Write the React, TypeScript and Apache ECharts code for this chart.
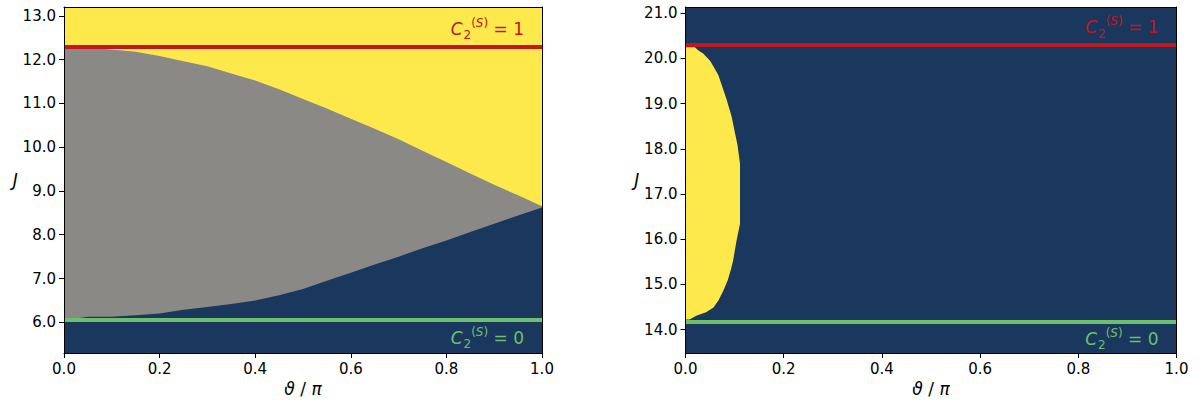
import React, { useEffect, useRef } from "react";
import * as echarts from "echarts";

// ---------- shared ----------
const X_TICKS = [0, 0.2, 0.4, 0.6, 0.8, 1.0];
const X_MIN = 0;
const X_MAX = 1;

// ---------- left panel ----------
const LEFT_J_MIN = 5.3;
const LEFT_J_MAX = 13.2;
const LEFT_Y_TICKS = [6, 7, 8, 9, 10, 11, 12, 13];
const LEFT_THETA = [0, 0.05, 0.1, 0.15, 0.2, 0.25, 0.3, 0.35, 0.4, 0.45, 0.5, 0.55, 0.6, 0.65, 0.7, 0.75, 0.8, 0.85, 0.9, 0.95, 1.0];
const LEFT_UPPER = [12.27, 12.27, 12.23, 12.18, 12.08, 11.96, 11.85, 11.68, 11.52, 11.32, 11.1, 10.88, 10.65, 10.42, 10.18, 9.92, 9.66, 9.4, 9.14, 8.9, 8.65];
const LEFT_LOWER = [6.05, 6.13, 6.13, 6.16, 6.2, 6.29, 6.35, 6.42, 6.5, 6.62, 6.76, 6.95, 7.13, 7.32, 7.5, 7.69, 7.87, 8.06, 8.25, 8.44, 8.62];
const LEFT_C1 = 12.3;
const LEFT_C0 = 6.05;

// ---------- right panel ----------
const RIGHT_J_MIN = 13.48;
const RIGHT_J_MAX = 21.14;
const RIGHT_Y_TICKS = [14, 15, 16, 17, 18, 19, 20, 21];
const RIGHT_J = [20.25, 20.17, 20.11, 19.95, 19.82, 19.63, 19.34, 19.08, 18.71, 18.34, 18.08, 17.67, 17.01, 16.34, 15.97, 15.53, 15.35, 15.09, 14.86, 14.64, 14.49, 14.38, 14.31, 14.22];
const RIGHT_EDGE = [0.019, 0.027, 0.036, 0.05, 0.057, 0.067, 0.076, 0.084, 0.094, 0.101, 0.106, 0.111, 0.111, 0.111, 0.104, 0.097, 0.093, 0.086, 0.077, 0.067, 0.057, 0.042, 0.023, 0.008];
const RIGHT_C1 = 20.3;
const RIGHT_C0 = 14.18;

// ---------- colours ----------
const NAVY = "#1a375e";
const GRAY = "#8a8986";
const YELLOW = "#fde94c";
const RED = "#c3161f";
const GREEN = "#6cc06c";
const FONT = "DejaVu Sans";

function polygonSeries(points: number[][], color: string, gi: number, z: number) {
  return {
    type: "custom",
    xAxisIndex: gi * 2,
    yAxisIndex: gi * 2,
    clip: true,
    z,
    silent: true,
    data: [[0, 0]],
    renderItem: (_p: any, api: any) => ({
      type: "polygon",
      shape: { points: points.map((pt) => api.coord(pt)) },
      style: { fill: color, stroke: null },
    }),
  };
}

function cLabel(value: string, color: string, above: boolean) {
  return {
    show: true,
    position: above ? "insideEndTop" : "insideEndBottom",
    distance: [18, 5],
    formatter: "{c|C}{sub|2}{sup|(}{s|S}{sup|)}{eq| = " + value + "}",
    color,
    rich: {
      c: { fontFamily: FONT, fontStyle: "italic", fontSize: 17, color },
      sub: { fontFamily: FONT, fontSize: 12, color, padding: [13, 0, 0, 1] },
      sup: { fontFamily: FONT, fontSize: 12, color, padding: [0, 0, 12, 0] },
      s: { fontFamily: FONT, fontStyle: "italic", fontSize: 12, color, padding: [0, 0, 12, 0] },
      eq: { fontFamily: FONT, fontSize: 17, color },
    },
  };
}

function markSeries(gi: number, c1: number, c0: number) {
  return {
    type: "line",
    xAxisIndex: gi * 2,
    yAxisIndex: gi * 2,
    data: [],
    z: 5,
    markLine: {
      silent: true,
      symbol: ["none", "none"],
      animation: false,
      data: [
        { yAxis: c1, lineStyle: { color: RED, width: 4, type: "solid" }, label: cLabel("1", RED, true) },
        { yAxis: c0, lineStyle: { color: GREEN, width: 4, type: "solid" }, label: cLabel("0", GREEN, false) },
      ],
    },
  };
}

function axesFor(gi: number, yMin: number, yMax: number, yTicks: number[]) {
  const labelStyle = { fontFamily: FONT, fontSize: 15, color: "#000" };
  const xMain = {
    type: "value",
    gridIndex: gi,
    min: X_MIN,
    max: X_MAX,
    z: 10,
    name: "{i|ϑ} / {i|π}",
    nameLocation: "middle",
    nameGap: 27,
    nameTextStyle: {
      fontFamily: FONT,
      fontSize: 17,
      color: "#000",
      rich: { i: { fontFamily: FONT, fontStyle: "italic", fontSize: 17, color: "#000" } },
    },
    axisLine: { show: true, onZero: false, lineStyle: { color: "#000", width: 1 } },
    axisTick: { show: true, length: 5, lineStyle: { color: "#000" }, customValues: X_TICKS },
    axisLabel: { ...labelStyle, margin: 8, customValues: X_TICKS, formatter: (v: number) => v.toFixed(1) },
    splitLine: { show: false },
  };
  const xTop = {
    type: "value",
    gridIndex: gi,
    position: "top",
    min: X_MIN,
    max: X_MAX,
    z: 10,
    axisLine: { show: true, onZero: false, lineStyle: { color: "#000", width: 1 } },
    axisTick: { show: false },
    axisLabel: { show: false },
    splitLine: { show: false },
  };
  const yMain = {
    type: "value",
    gridIndex: gi,
    min: yMin,
    max: yMax,
    z: 10,
    name: "J",
    nameLocation: "middle",
    nameRotate: 0,
    nameGap: 45,
    nameTextStyle: { fontFamily: FONT, fontStyle: "italic", fontSize: 17, color: "#000" },
    axisLine: { show: true, onZero: false, lineStyle: { color: "#000", width: 1 } },
    axisTick: { show: true, length: 5, lineStyle: { color: "#000" }, customValues: yTicks },
    axisLabel: { ...labelStyle, margin: 8, customValues: yTicks, formatter: (v: number) => v.toFixed(1) },
    splitLine: { show: false },
  };
  const yRight = {
    type: "value",
    gridIndex: gi,
    position: "right",
    min: yMin,
    max: yMax,
    z: 10,
    axisLine: { show: true, onZero: false, lineStyle: { color: "#000", width: 1 } },
    axisTick: { show: false },
    axisLabel: { show: false },
    splitLine: { show: false },
  };
  return { x: [xMain, xTop], y: [yMain, yRight] };
}

export default function App() {
  const ref = useRef<HTMLDivElement>(null);

  useEffect(() => {
    if (!ref.current) return;
    const chart = echarts.init(ref.current, undefined, { renderer: "svg" });

    const leftAxes = axesFor(0, LEFT_J_MIN, LEFT_J_MAX, LEFT_Y_TICKS);
    const rightAxes = axesFor(1, RIGHT_J_MIN, RIGHT_J_MAX, RIGHT_Y_TICKS);

    // Left panel polygons
    const leftUpperPts = LEFT_THETA.map((t, i) => [t, LEFT_UPPER[i]]);
    const leftLowerPts = LEFT_THETA.map((t, i) => [t, LEFT_LOWER[i]]);
    const leftYellow = [[X_MIN, LEFT_J_MIN], [X_MIN, LEFT_J_MAX], [X_MAX, LEFT_J_MAX], [X_MAX, LEFT_J_MIN]];
    const leftGray = [[X_MIN, LEFT_J_MIN], ...leftUpperPts, [X_MAX, LEFT_J_MIN]];
    const leftNavy = [[X_MIN, LEFT_J_MIN], ...leftLowerPts, [X_MAX, LEFT_J_MIN]];

    // Right panel polygons
    const rightNavy = [[X_MIN, RIGHT_J_MIN], [X_MIN, RIGHT_J_MAX], [X_MAX, RIGHT_J_MAX], [X_MAX, RIGHT_J_MIN]];
    const rightYellow = [
      [X_MIN, RIGHT_J[0]],
      ...RIGHT_J.map((j, i) => [RIGHT_EDGE[i], j]),
      [X_MIN, RIGHT_J[RIGHT_J.length - 1]],
    ];

    chart.setOption({
      animation: false,
      grid: [
        { left: 64, top: 7, width: 478, height: 346, containLabel: false },
        { left: 685.5, top: 7, width: 491, height: 346, containLabel: false },
      ],
      xAxis: [...leftAxes.x, ...rightAxes.x],
      yAxis: [...leftAxes.y, ...rightAxes.y],
      series: [
        polygonSeries(leftYellow, YELLOW, 0, 1),
        polygonSeries(leftGray, GRAY, 0, 2),
        polygonSeries(leftNavy, NAVY, 0, 3),
        markSeries(0, LEFT_C1, LEFT_C0),
        polygonSeries(rightNavy, NAVY, 1, 1),
        polygonSeries(rightYellow, YELLOW, 1, 2),
        markSeries(1, RIGHT_C1, RIGHT_C0),
      ],
    });

    return () => chart.dispose();
  }, []);

  return (
    <div
      ref={ref}
      style={{ position: "fixed", left: 0, top: 0, width: 1202, height: 405, background: "#fff" }}
    />
  );
}
